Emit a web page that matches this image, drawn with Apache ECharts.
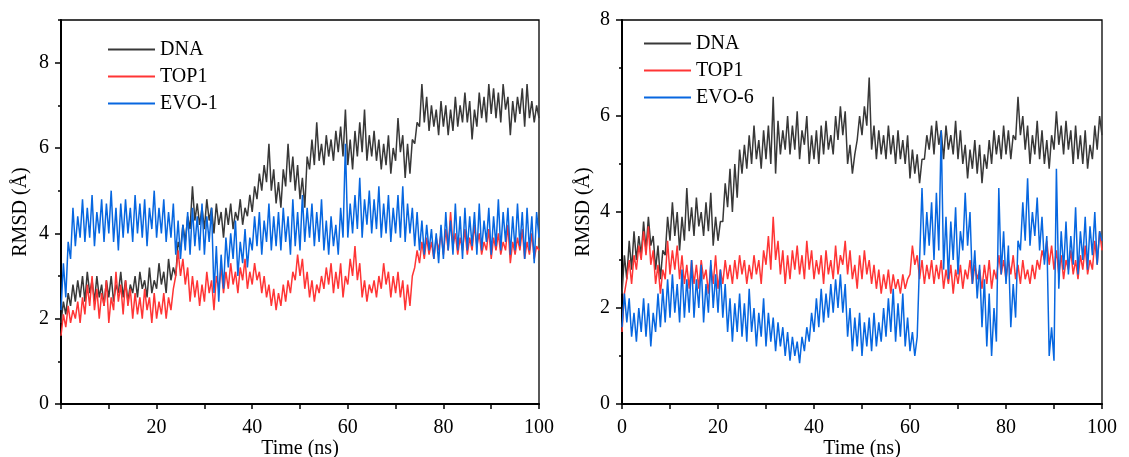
<!DOCTYPE html>
<html>
<head>
<meta charset="utf-8">
<script src="https://cdn.jsdelivr.net/npm/echarts@6/dist/echarts.min.js"></script>
<style>
html,body{margin:0;padding:0;background:#fff;}
#c{width:1129px;height:457px;}
</style>
</head>
<body>
<div id="c"></div>
<script>
// Time grid: one sample every 0.5 ns, 0 .. 100 ns
const timeStep = 0.5;

// Left panel (EVO-1 complex) RMSD values, Å
const leftDNA = [
1.9,2.4,2.1,2.6,2.3,2.8,2.4,2.9,2.5,3.0,
2.4,3.1,2.6,2.9,2.4,3.0,2.5,2.8,2.3,2.9,
2.5,3.0,2.4,2.8,2.6,3.1,2.5,2.9,2.4,2.8,
2.6,3.0,2.5,3.1,2.7,2.9,2.5,3.2,2.6,2.9,
2.7,3.3,2.8,3.1,2.6,3.4,2.9,3.2,3.0,3.8,
3.6,4.2,3.8,4.4,4.1,5.1,4.3,4.7,4.2,4.6,
4.1,4.8,4.3,4.6,4.0,4.7,4.2,4.5,3.9,4.6,
4.2,4.7,4.1,4.5,4.3,4.8,4.2,4.6,4.4,4.9,
4.5,5.1,4.8,5.4,5.0,5.6,5.2,6.1,5.0,5.5,
4.7,5.2,4.6,5.5,5.1,6.1,5.2,5.8,5.0,5.6,
4.8,5.3,4.6,5.8,5.5,6.2,5.6,6.6,5.7,6.1,
5.6,6.3,5.8,6.2,5.7,6.4,5.9,6.5,5.8,6.9,
5.6,6.2,5.5,6.4,5.8,6.6,5.9,6.9,5.7,6.3,
5.8,6.4,5.7,6.2,5.5,6.1,5.6,6.3,5.4,6.0,
5.7,6.7,5.9,6.3,5.3,6.1,5.4,6.2,6.1,6.6,
6.5,7.5,6.6,7.2,6.4,7.0,6.5,6.9,6.3,7.1,
6.5,7.0,6.3,6.9,6.4,7.2,6.5,7.0,6.6,7.3,
6.6,7.1,6.2,6.9,6.5,7.3,6.7,7.2,6.6,7.5,
6.8,7.4,6.7,7.3,6.6,7.5,6.9,7.2,6.3,7.1,
6.6,7.2,6.8,7.4,6.5,7.5,6.7,7.1,6.6,7.0,
6.7];
const leftTOP1 = [
1.6,2.1,1.8,2.3,1.9,2.2,2.0,2.4,1.9,2.5,
2.1,2.8,2.3,3.0,2.2,2.7,2.0,2.6,2.3,2.9,
1.9,2.5,2.2,3.1,2.4,2.8,2.1,2.9,2.3,2.7,
2.0,2.6,2.1,2.5,2.0,2.7,2.2,2.5,1.9,2.6,
2.0,2.4,2.1,2.6,2.0,2.5,2.2,2.7,3.0,3.6,
3.0,3.4,2.8,3.2,2.4,3.0,2.5,2.9,2.3,2.8,
2.4,3.1,2.6,2.9,2.2,3.0,2.7,3.2,2.6,3.1,
2.7,3.3,2.8,3.1,2.6,3.2,2.9,3.4,2.7,3.1,
2.8,3.3,2.9,3.1,2.6,3.0,2.5,2.8,2.3,2.7,
2.2,2.6,2.3,2.8,2.4,2.9,2.6,3.1,2.9,3.5,
3.0,3.4,2.7,3.1,2.5,2.9,2.4,2.8,2.6,3.0,
2.7,3.2,2.8,3.3,2.6,3.1,2.7,3.3,2.5,3.0,
2.8,3.4,3.0,3.7,2.9,3.3,2.5,2.9,2.4,2.8,
2.6,2.9,2.5,3.0,2.7,3.3,2.8,3.1,2.5,3.0,
2.6,3.1,2.5,2.9,2.2,2.8,2.3,3.0,3.2,3.6,
3.3,3.8,3.4,3.9,3.5,3.8,3.4,3.9,3.6,4.0,
3.5,4.1,3.6,4.5,3.7,4.0,3.5,3.9,3.6,4.1,
3.5,3.9,3.6,4.2,3.7,4.0,3.5,3.8,3.6,4.1,
3.4,3.9,3.6,4.0,3.5,3.8,3.6,4.2,3.3,3.8,
3.5,3.9,3.6,4.1,3.4,3.8,3.5,4.0,3.4,3.7,
3.6];
const leftEVO1 = [
2.2,3.3,2.5,3.8,3.4,4.6,3.7,4.4,3.9,4.8,
3.8,4.6,3.9,4.9,3.7,4.5,4.0,4.8,3.8,4.7,
4.0,5.0,3.8,4.6,3.6,4.7,3.9,4.8,4.0,4.6,
3.8,4.9,4.0,4.7,3.9,4.8,3.7,4.6,4.1,5.0,
3.9,4.6,4.0,4.8,3.8,4.5,3.9,4.7,3.5,4.3,
3.4,4.2,3.6,4.5,3.5,4.6,3.7,4.4,3.6,4.7,
3.5,4.4,3.8,4.6,2.6,3.7,2.4,3.5,2.7,3.9,
3.2,4.0,3.4,4.3,3.0,3.8,3.3,4.1,3.2,3.9,
3.6,4.4,3.7,4.5,3.5,4.3,3.8,4.7,3.6,4.4,
3.7,4.5,3.6,4.6,3.8,4.4,3.5,4.8,3.7,4.5,
3.6,4.9,3.8,4.6,3.9,4.7,3.7,4.5,3.8,4.8,
3.6,4.3,3.5,4.4,3.7,4.2,3.5,4.6,3.9,6.1,
3.9,4.7,4.0,4.9,4.1,5.3,3.9,4.8,4.2,5.0,
4.0,4.8,4.1,5.1,3.9,4.7,4.0,4.9,3.8,4.6,
4.0,4.9,3.9,5.1,3.8,4.7,4.0,4.6,3.7,4.5,
3.6,4.3,3.5,4.2,3.6,4.1,3.4,4.0,3.3,4.2,
3.4,4.5,3.6,4.3,3.5,4.7,3.6,4.4,3.4,4.6,
3.6,4.4,3.7,4.5,3.5,4.7,3.6,4.3,3.8,4.6,
3.5,4.4,3.7,4.8,3.6,4.5,3.8,4.6,3.5,4.4,
3.6,4.7,3.7,4.5,3.4,4.6,3.6,4.4,3.3,4.5,
3.9];

// Right panel (EVO-6 complex) RMSD values, Å
const rightDNA = [
2.3,3.1,2.6,3.4,2.8,3.6,3.0,3.5,3.1,3.8,
3.2,3.9,3.3,3.5,2.8,3.3,2.6,3.2,3.1,3.9,
3.4,4.2,3.5,4.0,3.2,3.9,3.4,4.5,3.6,4.1,
3.5,4.3,3.7,4.0,3.5,4.2,3.6,4.4,3.3,3.9,
3.4,3.8,3.8,4.6,4.1,4.9,4.0,5.0,4.3,5.3,
4.8,5.4,4.9,5.6,5.0,5.8,5.1,5.5,4.9,5.7,
5.1,5.8,5.0,6.4,4.8,5.9,5.2,5.7,5.3,6.0,
5.2,5.8,5.3,6.1,5.1,5.7,5.4,6.0,5.0,5.6,
5.1,5.7,5.0,5.8,5.2,5.9,5.3,5.6,5.2,6.0,
5.5,6.2,5.6,6.1,5.0,5.4,4.8,5.2,5.5,6.0,
5.6,6.2,5.8,6.8,5.3,5.8,5.1,5.7,5.2,5.6,
5.1,5.8,5.2,5.6,5.0,5.7,5.1,5.5,5.0,5.6,
4.7,5.3,4.8,5.2,4.6,5.1,5.1,5.6,5.3,5.8,
5.2,5.9,5.4,5.7,5.1,5.8,5.3,5.6,5.2,5.9,
5.1,5.7,5.0,5.4,4.7,5.3,4.9,5.5,4.8,5.4,
4.6,5.2,4.9,5.5,5.0,5.7,5.2,5.6,5.1,5.8,
5.2,5.7,5.1,5.6,5.5,6.4,5.6,6.0,5.3,5.8,
5.0,5.6,5.2,5.9,5.1,5.7,5.0,5.5,4.9,5.6,
5.3,6.1,5.4,5.8,5.2,5.9,5.3,5.7,5.0,5.8,
5.1,5.6,5.0,5.7,4.9,5.4,5.1,5.8,5.3,6.0,
5.6];
const rightTOP1 = [
1.5,2.3,2.6,3.0,2.5,3.1,2.8,3.3,3.0,3.6,
3.1,3.7,2.9,3.2,2.5,2.9,2.3,2.8,2.6,3.4,
2.7,3.2,2.8,3.3,2.6,3.1,2.5,2.9,2.4,3.0,
2.5,2.9,2.4,3.0,2.6,2.8,2.3,2.9,2.5,3.1,
2.4,2.8,2.5,3.0,2.6,2.9,2.5,3.0,2.6,3.1,
2.7,3.0,2.5,2.9,2.6,3.1,2.7,3.0,2.5,3.2,
2.9,3.5,2.8,3.9,3.0,3.4,2.7,3.2,2.5,3.1,
2.6,3.2,2.8,3.3,2.7,3.1,2.6,3.4,2.8,3.2,
2.6,3.0,2.7,3.1,2.5,3.2,2.7,3.0,2.6,3.3,
2.7,3.1,2.9,3.4,2.7,3.2,2.6,2.9,2.4,3.1,
2.6,3.2,2.7,3.0,2.5,2.9,2.4,2.8,2.3,2.7,
2.4,2.8,2.3,2.7,2.4,2.6,2.3,2.7,2.4,2.6,
2.7,3.3,2.9,3.1,2.6,3.0,2.5,2.9,2.6,3.0,
2.5,2.9,2.6,3.0,2.4,2.8,2.5,2.9,2.3,2.8,
2.5,2.9,2.4,2.8,2.6,3.0,2.5,2.9,2.6,2.8,
2.4,2.9,2.5,3.0,2.4,2.8,2.6,3.1,2.7,3.0,
2.6,3.0,2.7,3.1,2.6,2.9,2.5,3.0,2.6,2.8,
2.5,2.9,2.6,3.0,2.8,3.2,3.0,3.4,2.9,3.3,
2.8,3.2,2.7,3.1,2.6,3.0,2.8,3.2,2.7,3.0,
2.6,3.1,2.8,3.3,2.7,3.0,2.8,3.4,2.9,3.6,
3.2];
const rightEVO6 = [
1.6,2.3,1.7,2.2,1.4,1.9,1.3,2.0,1.5,2.2,
1.4,2.1,1.2,1.9,1.5,2.3,1.6,2.4,1.7,2.6,
1.8,2.7,1.9,2.5,1.7,2.8,1.8,2.6,1.9,3.0,
1.8,2.6,2.0,2.9,1.7,2.5,1.9,3.0,2.0,2.7,
1.9,2.8,1.8,2.5,1.5,2.2,1.3,2.1,1.5,2.3,
1.4,2.1,1.3,2.4,1.5,2.0,1.2,1.9,1.4,2.2,
1.2,1.9,1.3,1.8,1.1,1.7,1.2,1.6,1.0,1.5,
0.9,1.4,1.0,1.3,0.85,1.4,1.1,1.6,1.3,1.9,
1.5,2.2,1.6,2.4,1.7,2.3,1.8,2.5,1.9,2.6,
2.0,2.7,1.9,2.5,1.4,2.0,1.1,1.8,1.2,1.9,
1.0,1.7,1.2,1.8,1.1,1.9,1.2,1.7,1.3,2.0,
1.4,2.2,1.5,2.4,1.3,2.1,1.4,2.3,1.2,1.8,
1.1,1.5,1.0,1.4,3.0,4.5,3.1,4.0,3.3,4.2,
3.0,4.4,3.2,5.7,2.8,3.9,2.6,3.8,3.0,4.1,
2.7,3.6,3.2,4.4,3.3,4.0,2.5,3.2,2.2,2.9,
1.6,2.6,1.2,2.3,1.0,2.0,1.3,4.5,2.7,3.6,
2.5,3.3,1.6,2.5,1.8,3.4,3.2,4.2,3.4,4.7,
3.3,4.0,3.5,4.3,3.2,3.9,2.9,3.5,1.0,1.6,
0.9,4.9,2.4,3.6,2.8,3.8,2.7,3.5,2.9,4.1,
2.7,3.6,3.0,3.9,2.8,3.7,3.1,4.0,2.9,3.6,
3.4];

const seriesNamesLeft = ['DNA', 'TOP1', 'EVO-1'];
const seriesNamesRight = ['DNA', 'TOP1', 'EVO-6'];
const colors = ['#383838', '#ff3535', '#0767e0'];

function pairs(arr) { return arr.map((v, i) => [i * timeStep, v]); }

const FONT = '"Liberation Serif", "Times New Roman", serif';
const axisTextStyle = { fontFamily: FONT, fontSize: 20, color: '#000' };

function xAxisFor(gridIndex, showZero) {
  return {
    type: 'value', gridIndex, min: 0, max: 100, interval: 10,
    name: 'Time (ns)', nameLocation: 'middle', nameGap: 35, nameMoveOverlap: false,
    nameTextStyle: { fontFamily: FONT, fontSize: 20, color: '#000' },
    axisLine: { show: true, lineStyle: { color: '#000', width: 2 } },
    axisTick: { show: true, inside: false, length: 5, lineStyle: { color: '#000', width: 1.5 } },
    axisLabel: Object.assign({ margin: 14, showMaxLabel: true,
      formatter: v => (v % 20 === 0 && (showZero || v !== 0)) ? String(v) : '' }, axisTextStyle),
    splitLine: { show: false }
  };
}
function yAxesFor(gridIndex, max, nameGap) {
  const majors = [0, 2, 4, 6, 8];
  return [{
    type: 'value', gridIndex, min: 0, max, interval: 1,
    name: 'RMSD (Å)', nameLocation: 'middle', nameGap, nameMoveOverlap: false,
    nameTextStyle: { fontFamily: FONT, fontSize: 20, color: '#000' },
    axisLine: { show: true, lineStyle: { color: '#000', width: 2 } },
    axisTick: { show: true, length: 3, lineStyle: { color: '#000', width: 1.5 } },
    axisLabel: Object.assign({ margin: 12, showMaxLabel: true,
      formatter: v => (v % 2 === 0) ? String(v) : '' }, axisTextStyle),
    splitLine: { show: false }
  }, {
    type: 'value', gridIndex, min: 0, max, interval: 1, position: 'left',
    axisLine: { show: false },
    axisTick: { show: true, length: 6, customValues: majors, lineStyle: { color: '#000', width: 1.5 } },
    axisLabel: { show: false },
    splitLine: { show: false }
  }];
}

function lineSeries(name, data, color, xi, yi) {
  return {
    type: 'line', name, data: pairs(data), xAxisIndex: xi, yAxisIndex: yi,
    showSymbol: false, symbol: 'none', sampling: null,
    lineStyle: { color, width: 1.5 }, itemStyle: { color },
    emphasis: { disabled: true }, z: 2
  };
}

const legendBase = {
  orient: 'vertical', itemWidth: 47, itemHeight: 14, itemGap: 6,
  icon: 'path://M0,0 L47,0 L47,2 L0,2 Z',
  textStyle: { fontFamily: FONT, fontSize: 20, color: '#000', lineHeight: 21, padding: 0 },
  selectedMode: false
};

const y0 = yAxesFor(0, 9, 30);
const y1 = yAxesFor(1, 8, 28);

const option = {
  animation: false,
  backgroundColor: '#fff',
  grid: [
    { left: 61, right: 590, top: 20, bottom: 53, show: true, borderColor: '#000', borderWidth: 1.3,
      backgroundColor: 'transparent', outerBoundsMode: 'none', containLabel: false },
    { left: 622, right: 27, top: 20, bottom: 53, show: true, borderColor: '#000', borderWidth: 1.3,
      backgroundColor: 'transparent', outerBoundsMode: 'none', containLabel: false }
  ],
  legend: [
    Object.assign({}, legendBase, { left: 103, top: 34, data: seriesNamesLeft.map(n => ({ name: n })) }),
    Object.assign({}, legendBase, { left: 639, top: 28, data: ['DNA ', 'TOP1 ', 'EVO-6'].map(n => ({ name: n })),
      formatter: n => n.trim() })
  ],
  xAxis: [xAxisFor(0, false), xAxisFor(1, true)],
  yAxis: [y0[0], y0[1], y1[0], y1[1]],
  series: [
    lineSeries(seriesNamesLeft[0], leftDNA, colors[0], 0, 0),
    lineSeries(seriesNamesLeft[1], leftTOP1, colors[1], 0, 0),
    lineSeries(seriesNamesLeft[2], leftEVO1, colors[2], 0, 0),
    lineSeries('DNA ', rightDNA, colors[0], 1, 2),
    lineSeries('TOP1 ', rightTOP1, colors[1], 1, 2),
    lineSeries(seriesNamesRight[2], rightEVO6, colors[2], 1, 2)
  ]
};

const chart = echarts.init(document.getElementById('c'), null, { renderer: 'canvas' });
chart.setOption(option);
</script>
</body>
</html>
